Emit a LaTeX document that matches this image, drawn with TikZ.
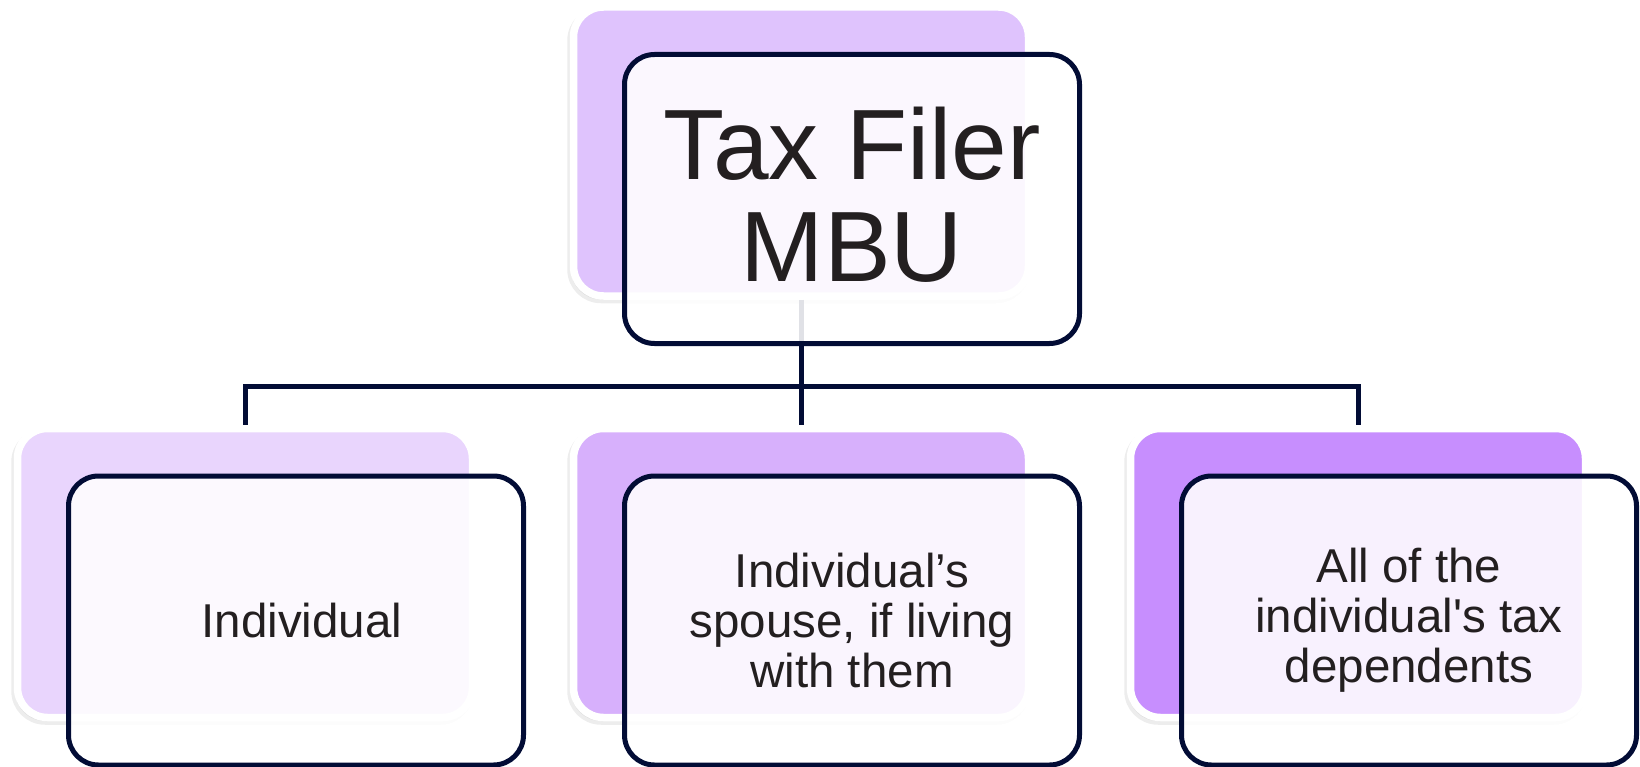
\documentclass[tikz,border=0pt]{standalone}
\usepackage{fontspec}
\setmainfont{Liberation Sans}
\usetikzlibrary{shadows}
\definecolor{navy}{HTML}{020C35}
\definecolor{ptop}{HTML}{DFC3FD}
\definecolor{pleft}{HTML}{E9D5FD}
\definecolor{pmid}{HTML}{D7B0FC}
\definecolor{pright}{HTML}{C78EFE}
\definecolor{txt}{HTML}{231F20}
\begin{document}
\begin{tikzpicture}[x=1pt,y=-1pt,
  backbox/.style={rectangle, rounded corners=30pt, minimum width=455pt, minimum height=289pt,
    inner sep=0pt, draw=white, line width=7.5pt,
    drop shadow={shadow xshift=-2.5pt, shadow yshift=-3.5pt, opacity=0.07, fill=black, draw=black, line width=7.5pt}},
  frontbox/.style={rectangle, rounded corners=30pt, minimum width=455pt, minimum height=289pt,
    inner sep=0pt, draw=navy, line width=5pt, fill=white, fill opacity=0.88, text opacity=1,
    text=txt, align=center},
  smalltext/.style={font=\fontsize{47.5}{50}\selectfont},
  bigtext/.style={font=\fontsize{100}{102}\selectfont},
  conn/.style={draw=navy, line width=5pt}]
\useasboundingbox (0,0) rectangle (1640,767);
\coordinate (hy) at (0,386.5);
% back boxes
\node[backbox, fill=ptop]   (b0) at (801,151.5) {};
\node[backbox, fill=pleft]  (b1) at (245,573) {};
\node[backbox, fill=pmid]   (b2) at (801,573) {};
\node[backbox, fill=pright] (b3) at (1358,573) {};
% connectors
\draw[conn] (b0.south) -- (b2.north);
\draw[conn] (b1.north) -- (b1.north |- hy) -- (b3.north |- hy) -- (b3.north);
% front boxes
\node[frontbox, bigtext]   (f0) at (852,199) {Tax Filer\\MBU\rule[-9pt]{0pt}{9pt}};
\node[frontbox, smalltext] (f1) at (296,620.5) {\hspace*{12pt}Individual};
\node[frontbox, smalltext] (f2) at (852,620.5) {Individual’s\\spouse, if living\\with them};
\node[frontbox, smalltext] (f3) at (1409,620.5) {All of the\\individual\textquotesingle s tax\\dependents\rule[-4pt]{0pt}{4pt}};
\end{tikzpicture}
\end{document}
